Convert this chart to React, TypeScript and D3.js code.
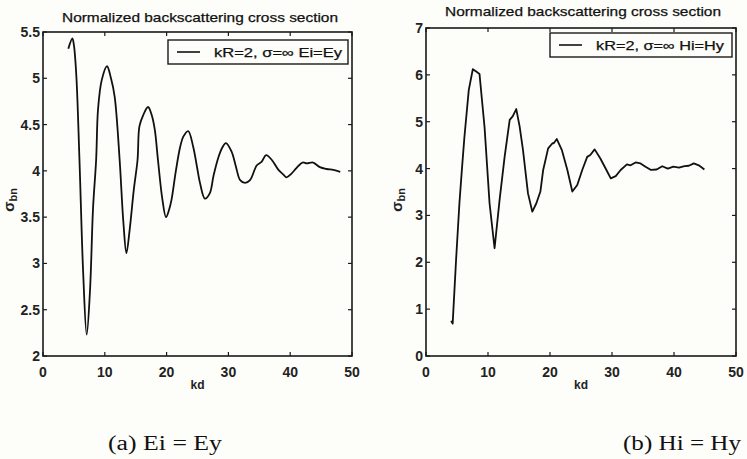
import React, { useEffect, useRef } from "react";
import * as d3 from "d3";

// panel (a): Ei = Ey
const kdE = [4.1, 4.75, 5.0, 5.4, 5.9, 6.5, 7.07, 7.6, 8.1, 8.6, 8.9, 9.5, 10.35, 11.0, 11.6, 12.4, 13.0, 13.5, 14.0, 14.7, 15.3, 15.6, 16.2, 17.0, 17.6, 18.1, 18.6, 19.3, 19.9, 20.4, 20.8, 21.5, 22.2, 22.7, 23.5, 24.3, 24.9, 25.4, 26.2, 27.0, 27.6, 28.4, 29.0, 29.6, 30.5, 31.2, 31.9, 32.7, 33.5, 34.6, 35.4, 36.1, 37.0, 38.1, 38.9, 39.4, 40.2, 41.0, 42.0, 42.7, 43.7, 44.8, 45.9, 47.0, 48.1];
const sigmaE = [5.32, 5.43, 5.36, 5.02, 4.12, 2.9, 2.23, 2.7, 3.6, 4.12, 4.66, 4.98, 5.13, 5.0, 4.8, 4.12, 3.45, 3.11, 3.35, 3.8, 4.12, 4.48, 4.6, 4.69, 4.6, 4.44, 4.12, 3.7, 3.5, 3.58, 3.69, 4.0, 4.26, 4.37, 4.43, 4.26, 4.05, 3.87, 3.7, 3.76, 3.95, 4.15, 4.25, 4.3, 4.21, 4.05, 3.9, 3.87, 3.9, 4.06, 4.1, 4.17, 4.12, 4.01, 3.96, 3.93, 3.97, 4.03, 4.09, 4.08, 4.09, 4.04, 4.02, 4.01, 3.99];

// panel (b): Hi = Hy
const kdH = [4.05, 4.3, 4.85, 5.39, 5.8, 6.2, 6.9, 7.55, 8.1, 8.63, 9.0, 9.44, 10.25, 11.06, 11.87, 12.68, 13.5, 14.0, 14.56, 15.1, 15.64, 16.45, 17.15, 17.8, 18.45, 18.9, 19.7, 20.4, 20.6, 21.1, 21.9, 22.8, 23.6, 24.4, 25.2, 26.0, 26.5, 27.2, 28.1, 29.1, 29.8, 30.6, 31.4, 32.4, 33.0, 33.8, 34.6, 35.4, 36.3, 37.2, 38.1, 39.0, 39.9, 40.8, 41.7, 42.4, 43.2, 44.0, 44.9];
const sigmaH = [0.75, 0.69, 2.05, 3.26, 4.0, 4.68, 5.68, 6.12, 6.07, 6.02, 5.5, 4.89, 3.26, 2.3, 3.33, 4.25, 5.04, 5.12, 5.27, 4.9, 4.4, 3.47, 3.08, 3.26, 3.51, 3.97, 4.43, 4.54, 4.54, 4.63, 4.4, 3.97, 3.51, 3.65, 3.97, 4.25, 4.29, 4.41, 4.22, 3.97, 3.79, 3.84, 3.97, 4.09, 4.07, 4.13, 4.11, 4.04, 3.97, 3.98, 4.05, 4.0, 4.04, 4.02, 4.05, 4.06, 4.11, 4.07, 3.98];

const xTicks = [0, 10, 20, 30, 40, 50];
const yTicksE = [2, 2.5, 3, 3.5, 4, 4.5, 5, 5.5];
const yTicksH = [0, 1, 2, 3, 4, 5, 6, 7];

const titleText = "Normalized backscattering cross section";
const legendE = "kR=2, \u03c3=\u221e Ei=Ey";
const legendH = "kR=2, \u03c3=\u221e Hi=Hy";

const panels = [
  {
    kd: kdE, sigma: sigmaE, yTicks: yTicksE, yDomain: [2, 5.5], legend: legendE, smooth: true,
    left: 43, right: 352, top: 32, bottom: 356,
    titleX: 200, titleY: 22,
    leg: { x: 168, y: 40, w: 180, h: 24 },
    ylabX: 14, ylabY: 200,
    caption: "(a) Ei = Ey", capX: 108, capW: 114, capAnchor: "start"
  },
  {
    kd: kdH, sigma: sigmaH, yTicks: yTicksH, yDomain: [0, 7], legend: legendH, smooth: false,
    left: 426, right: 736, top: 28, bottom: 356,
    titleX: 583, titleY: 16,
    leg: { x: 550, y: 33, w: 182, h: 24 },
    ylabX: 402, ylabY: 200,
    caption: "(b) Hi = Hy", capX: 741, capW: 118, capAnchor: "end"
  }
];

function App() {
  const ref = useRef<SVGSVGElement>(null);

  useEffect(() => {
    const svg = d3.select(ref.current);
    svg.selectAll("*").remove();

    svg.append("rect").attr("width", 747).attr("height", 459).attr("fill", "#fdfdf9");

    const font = "'Liberation Sans', Arial, sans-serif";

    panels.forEach((p) => {
      const x = d3.scaleLinear().domain([0, 50]).range([p.left, p.right]);
      const y = d3.scaleLinear().domain(p.yDomain).range([p.bottom, p.top]);
      const g = svg.append("g");

      // title
      g.append("text")
        .attr("x", p.titleX)
        .attr("y", p.titleY)
        .attr("text-anchor", "middle")
        .attr("font-family", font)
        .attr("font-size", 13)
        .attr("fill", "#111")
        .attr("stroke", "#111")
        .attr("stroke-width", 0.25)
        .attr("textLength", 276)
        .attr("lengthAdjust", "spacingAndGlyphs")
        .text(titleText);

      // box
      g.append("rect")
        .attr("x", p.left)
        .attr("y", p.top)
        .attr("width", p.right - p.left)
        .attr("height", p.bottom - p.top)
        .attr("fill", "none")
        .attr("stroke", "#1a1a1a")
        .attr("stroke-width", 1.6);

      // inward ticks on all four sides
      const tl = 4;
      xTicks.forEach((t) => {
        g.append("line").attr("x1", x(t)).attr("x2", x(t)).attr("y1", p.bottom).attr("y2", p.bottom - tl)
          .attr("stroke", "#1a1a1a").attr("stroke-width", 1.2);
        g.append("line").attr("x1", x(t)).attr("x2", x(t)).attr("y1", p.top).attr("y2", p.top + tl)
          .attr("stroke", "#1a1a1a").attr("stroke-width", 1.2);
        g.append("text")
          .attr("x", x(t))
          .attr("y", p.bottom + 21)
          .attr("text-anchor", "middle")
          .attr("font-family", font)
          .attr("font-weight", "bold")
          .attr("font-size", 14)
          .attr("fill", "#222")
          .text(t);
      });
      p.yTicks.forEach((t) => {
        g.append("line").attr("x1", p.left).attr("x2", p.left + tl).attr("y1", y(t)).attr("y2", y(t))
          .attr("stroke", "#1a1a1a").attr("stroke-width", 1.2);
        g.append("line").attr("x1", p.right).attr("x2", p.right - tl).attr("y1", y(t)).attr("y2", y(t))
          .attr("stroke", "#1a1a1a").attr("stroke-width", 1.2);
        g.append("text")
          .attr("x", p.left - 3)
          .attr("y", y(t) + 5)
          .attr("text-anchor", "end")
          .attr("font-family", font)
          .attr("font-weight", "bold")
          .attr("font-size", 14)
          .attr("fill", "#222")
          .text(t);
      });

      // x label
      g.append("text")
        .attr("x", (p.left + p.right) / 2)
        .attr("y", p.bottom + 33)
        .attr("text-anchor", "middle")
        .attr("font-family", font)
        .attr("font-weight", "bold")
        .attr("font-size", 12)
        .attr("fill", "#222")
        .text("kd");

      // y label
      const yl = g.append("text")
        .attr("transform", "translate(" + p.ylabX + "," + p.ylabY + ") rotate(-90)")
        .attr("text-anchor", "middle")
        .attr("font-family", font)
        .attr("font-weight", "bold")
        .attr("font-size", 15)
        .attr("fill", "#222");
      yl.append("tspan").text("\u03c3");
      yl.append("tspan").attr("font-size", 11).attr("dy", 3).text("bn");

      // curve
      const pts = p.kd.map((k, i) => [k, p.sigma[i]] as [number, number]);
      const line = d3.line<[number, number]>()
        .x((d) => x(d[0]))
        .y((d) => y(d[1]))
        .curve(p.smooth ? d3.curveCatmullRom.alpha(0.5) : d3.curveLinear);
      g.append("path")
        .attr("d", line(pts))
        .attr("fill", "none")
        .attr("stroke", "#111")
        .attr("stroke-width", 1.8)
        .attr("stroke-linejoin", "round");

      // legend
      g.append("rect")
        .attr("x", p.leg.x)
        .attr("y", p.leg.y)
        .attr("width", p.leg.w)
        .attr("height", p.leg.h)
        .attr("fill", "#fdfdf9")
        .attr("stroke", "#1a1a1a")
        .attr("stroke-width", 1.4);
      const ly = p.leg.y + p.leg.h / 2;
      g.append("line")
        .attr("x1", p.leg.x + 9).attr("x2", p.leg.x + 32)
        .attr("y1", ly).attr("y2", ly)
        .attr("stroke", "#111").attr("stroke-width", 1.6);
      g.append("text")
        .attr("x", p.leg.x + 46)
        .attr("y", ly + 4.5)
        .attr("font-family", font)
        .attr("font-size", 13)
        .attr("fill", "#111")
        .attr("stroke", "#111")
        .attr("stroke-width", 0.25)
        .attr("textLength", 128)
        .attr("lengthAdjust", "spacingAndGlyphs")
        .text(p.legend);

      // caption
      g.append("text")
        .attr("x", p.capX)
        .attr("y", 450)
        .attr("text-anchor", p.capAnchor)
        .attr("font-family", "'Liberation Serif', 'Times New Roman', serif")
        .attr("font-size", 20)
        .attr("fill", "#111")
        .attr("textLength", p.capW)
        .attr("lengthAdjust", "spacingAndGlyphs")
        .text(p.caption);
    });
  }, []);

  return (
    <svg ref={ref} width={747} height={459} style={{ position: "absolute", left: 0, top: 0 }} />
  );
}

export default App;
